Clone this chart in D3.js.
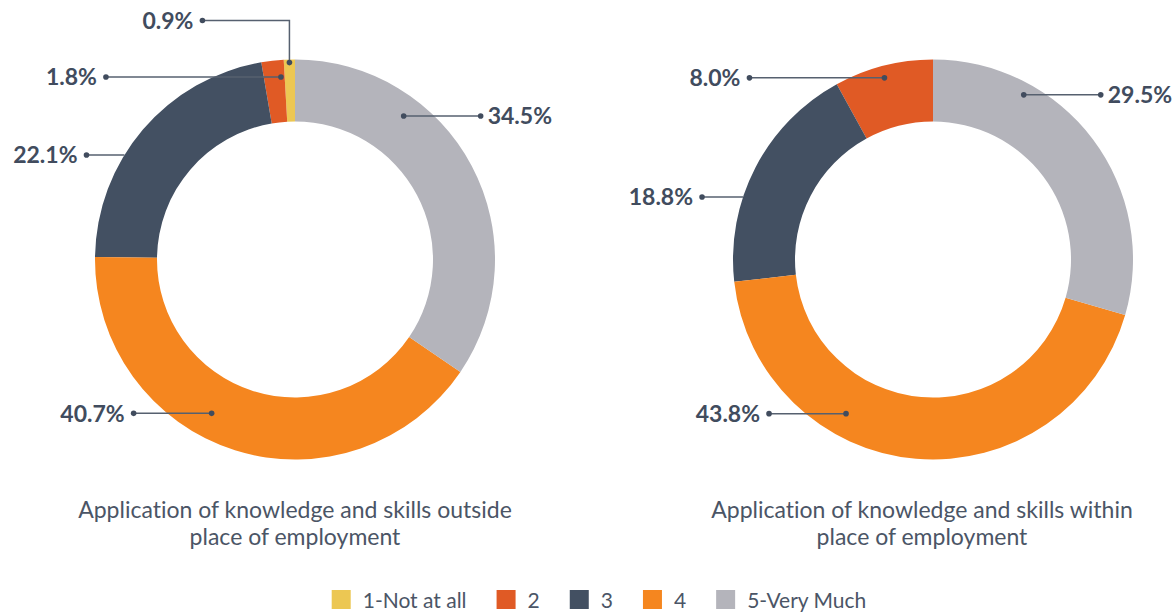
<!DOCTYPE html>
<html>
<head>
<meta charset="utf-8">
<title>Application of knowledge and skills</title>
<script src="https://cdn.jsdelivr.net/npm/d3@7"></script>
<style>
  body { margin: 0; background: #fff; }
  svg { display: block; font-family: Lato, sans-serif; font-variant-ligatures: none; }
</style>
</head>
<body>
<script>

// Data
var categories = ["1-Not at all", "2", "3", "4", "5-Very Much"];
var outsideValues = [0.9, 1.8, 22.1, 40.7, 34.5];
var withinValues = [0, 8.0, 18.8, 43.8, 29.5];
var chartTitles = [
  ["Application of knowledge and skills outside", "place of employment"],
  ["Application of knowledge and skills within", "place of employment"]
];
var colours = ["#ECC753", "#E05A25", "#435062", "#F5861F", "#B4B4BB"];

// Where the leader lines go (fraction along slice clockwise, radius, line length)
var outsideLabels = [
  {frac: 0.5, r: 197, elbow: -239, len: 87},
  {frac: 0.82, r: 183, len: 175},
  {frac: 0.387, r: 200, len: 38, edge: true},
  {frac: 0.575, r: 175, len: 78},
  {frac: 0.299, r: 180, len: 77}
];
var withinLabels = [
  null,
  {frac: 0.48, r: 188, len: 135},
  {frac: 0.364, r: 200, len: 41, edge: true},
  {frac: 0.656, r: 177, len: 77},
  {frac: 0.272, r: 188, len: 77}
];

var w = 1172;
var h = 614;

var svg = d3.select("body")
            .append("svg")
            .attr("width", w)
            .attr("height", h);

var textColour = "#414c5e";
var outerR = 200;
var innerR = 138;

// pie goes counter clockwise from 12 o'clock so 5-Very Much ends up on the right
var pie = d3.pie()
            .sort(null)
            .startAngle(0)
            .endAngle(-2 * Math.PI)
            .value(d => d);

var arc = d3.arc()
            .innerRadius(innerR)
            .outerRadius(outerR);

drawDonut(outsideValues, outsideLabels, chartTitles[0], 295, 259.5, 295);
drawDonut(withinValues, withinLabels, chartTitles[1], 933, 259.5, 922);
drawLegend();

function drawDonut(values, labels, title, cx, cy, titleX){

  var g = svg.append("g")
             .attr("transform", `translate(${cx}, ${cy})`);

  var slices = pie(values);

  g.selectAll("path")
   .data(slices.filter(d => d.value > 0))
   .enter()
   .append("path")
   .attr("d", arc)
   .attr("fill", d => colours[d.index]);

  // labels with leader lines
  slices.forEach(function(d, i){
    var lab = labels[i];
    if (!lab || d.value == 0) return;

    var a = d.endAngle + lab.frac * (d.startAngle - d.endAngle);
    var ax = lab.r * Math.sin(a);
    var ay = -lab.r * Math.cos(a);
    var right = ax > 0 && !lab.elbow;
    var ly = lab.elbow ? lab.elbow : ay;
    var lx;
    var pts;

    if (lab.elbow) {
      lx = ax - lab.len;
      pts = [[ax, ay], [ax, ly], [lx, ly]];
    } else {
      lx = right ? ax + lab.len : ax - lab.len;
      pts = [[ax, ay], [lx, ly]];
    }

    g.append("path")
     .attr("d", d3.line()(pts))
     .attr("fill", "none")
     .attr("stroke", "#56606f")
     .attr("stroke-width", 1.5);

    g.append("circle")
     .attr("cx", lx)
     .attr("cy", ly)
     .attr("r", 2.8)
     .attr("fill", textColour);

    if (!lab.edge) {
      g.append("circle")
       .attr("cx", ax)
       .attr("cy", ay)
       .attr("r", 2.8)
       .attr("fill", textColour);
    }

    g.append("text")
     .attr("x", right ? lx + 7 : lx - 9)
     .attr("y", ly)
     .attr("dy", "0.36em")
     .attr("text-anchor", right ? "start" : "end")
     .attr("font-size", 23)
     .attr("font-weight", "bold")
     .attr("fill", textColour)
     .text(d3.format(".1f")(d.value) + "%");
  });

  // title under the donut
  var t = svg.append("text")
             .attr("x", titleX)
             .attr("y", 518)
             .attr("text-anchor", "middle")
             .attr("font-size", 23)
             .attr("fill", "#4b5566");

  t.selectAll("tspan")
   .data(title)
   .enter()
   .append("tspan")
   .attr("x", titleX)
   .attr("dy", (d, i) => i == 0 ? 0 : 27)
   .text(d => d);
}

function drawLegend(){
  var legend = svg.append("g");
  var x = 0;
  var box = 19;
  var gap = 30;
  var items = legend.selectAll("g")
                    .data(categories)
                    .enter()
                    .append("g");

  items.append("rect")
       .attr("width", box)
       .attr("height", box)
       .attr("y", 590)
       .attr("fill", (d, i) => colours[i]);

  items.append("text")
       .attr("x", box + 12)
       .attr("y", 600)
       .attr("dy", "0.36em")
       .attr("font-size", 21)
       .attr("fill", "#4b5566")
       .text(d => d);

  items.each(function(){
    var item = d3.select(this);
    item.attr("transform", `translate(${x}, 0)`);
    x += box + 12 + item.select("text").node().getComputedTextLength() + gap;
  });

  var total = x - gap;
  legend.attr("transform", `translate(${599 - total / 2}, 0)`);
}

</script>
</body>
</html>
